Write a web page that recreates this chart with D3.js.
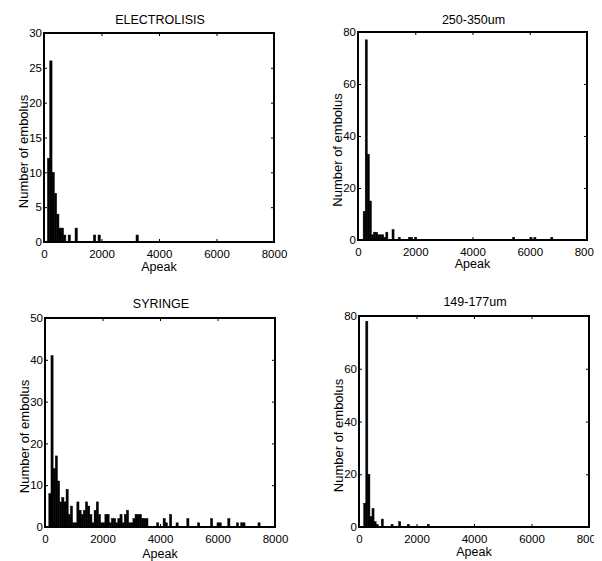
<!DOCTYPE html>
<html>
<head>
<meta charset="utf-8">
<script src="https://cdnjs.cloudflare.com/ajax/libs/d3/7.8.5/d3.min.js"></script>
<style>
body { margin: 0; background: #fff; }
svg { display: block; overflow: hidden; }
text { font-family: "Liberation Sans", Arial, Helvetica, sans-serif; fill: #000; }
</style>
</head>
<body>
<svg id="fig" width="594" height="561"></svg>
<script>
// Histograms of Apeak: bin centres and counts

var xTicks = [0, 2000, 4000, 6000, 8000];

var electroCenters = [160, 240, 320, 400, 480, 560, 640, 720, 880, 1120, 1760, 1920, 3240];
var electroCounts  = [ 12,  26,  10,   7,   4,   2,   2,   1,   1,    2,    1,    1,    1];
var electroTicks   = [0, 5, 10, 15, 20, 25, 30];

var bigCenters = [216, 288, 360, 432, 504, 576, 648, 720, 792, 864, 936, 1008,
                  1224, 1440, 1800, 1872, 2016, 5440, 6045, 6180, 6770];
var bigCounts  = [ 11,  77,  33,  15,   2,   3,   3,   2,   2,   2,   1,    3,
                      4,    1,    1,    1,    1,    1,    1,    1,    1];
var bigTicks   = [0, 20, 40, 60, 80];

var syringeCenters = [170, 245, 320, 395, 470, 545, 620, 695, 770, 845, 920, 995,
                      1070, 1145, 1220, 1295, 1370, 1445, 1520, 1595, 1670, 1745, 1820, 1895,
                      1970, 2045, 2120, 2195, 2270, 2345, 2420, 2495, 2570, 2645, 2720, 2795,
                      2870, 2945, 3020, 3095, 3170, 3245, 3320, 3395, 3470, 3545,
                      3920, 4145, 4220, 4370, 4595, 4970, 5345, 5795, 6020, 6095,
                      6395, 6695, 6845, 6920, 7445];
var syringeCounts  = [8, 41, 14, 17, 11, 6, 7, 6, 9, 3, 5, 1,
                      1, 6, 4, 3, 4, 6, 5, 3, 1, 4, 6, 3,
                      1, 1, 3, 3, 1, 2, 2, 1, 2, 3, 1, 3,
                      4, 1, 1, 2, 3, 3, 3, 2, 2, 2,
                      1, 2, 1, 3, 1, 2, 1, 2, 1, 1,
                      2, 1, 1, 1, 1];
var syringeTicks   = [0, 10, 20, 30, 40, 50];

var smallCenters = [200, 272, 344, 416, 488, 560, 632, 810, 1150, 1415, 1715, 2410];
var smallCounts  = [  9,  78,  20,   4,   7,   2,   1,   3,    1,    2,    1,    1];
var smallTicks   = [0, 20, 40, 60, 80];

// one entry per subplot: data plus where the box sits on the page
var panels = [
    { title: 'ELECTROLISIS', centers: electroCenters, counts: electroCounts, yTicks: electroTicks,
      bin: 80, box: [44, 33, 274, 242], titleDy: 9, xlabDy: 29 },
    { title: '250-350um', centers: bigCenters, counts: bigCounts, yTicks: bigTicks,
      bin: 72, box: [358, 32, 587, 240], titleDy: 8, xlabDy: 28 },
    { title: 'SYRINGE', centers: syringeCenters, counts: syringeCounts, yTicks: syringeTicks,
      bin: 75, box: [45, 318, 275, 527], titleDy: 10, xlabDy: 31 },
    { title: '149-177um', centers: smallCenters, counts: smallCounts, yTicks: smallTicks,
      bin: 72, box: [359, 316, 589, 527], titleDy: 10, xlabDy: 29 }
];

var svg = d3.select('#fig');

function drawPanel(p) {
    var left = p.box[0], top = p.box[1], right = p.box[2], bottom = p.box[3];
    var yMax = p.yTicks[p.yTicks.length - 1];

    var x = d3.scaleLinear().domain([0, 8000]).range([left, right]);
    var y = d3.scaleLinear().domain([0, yMax]).range([bottom, top]);
    var g = svg.append('g');

    var bins = p.centers.map(function(c, i) { return { c: c, n: p.counts[i] }; });
    var bw = x(p.bin) - x(0);

    g.selectAll('rect.bar')
        .data(bins)
      .enter().append('rect')
        .attr('class', 'bar')
        .attr('x', function(d) { return x(d.c) - bw / 2; })
        .attr('y', function(d) { return y(d.n); })
        .attr('width', bw)
        .attr('height', function(d) { return y(0) - y(d.n); })
        .attr('fill', '#000')
        .attr('stroke', '#000')
        .attr('stroke-width', 0.5);

    // inward ticks on all four sides, labels only bottom and left
    var tick = 3;
    var bottomAxis = d3.axisBottom(x).tickValues(xTicks).tickSize(-tick).tickPadding(8)
        .tickFormat(d3.format('d'));
    var leftAxis = d3.axisLeft(y).tickValues(p.yTicks).tickSize(-tick).tickPadding(2);
    var topAxis = d3.axisTop(x).tickValues(xTicks).tickSize(-tick).tickFormat('');
    var rightAxis = d3.axisRight(y).tickValues(p.yTicks).tickSize(-tick).tickFormat('');

    var axes = [
        [bottomAxis, 'translate(0,' + bottom + ')'],
        [leftAxis, 'translate(' + left + ',0)'],
        [topAxis, 'translate(0,' + top + ')'],
        [rightAxis, 'translate(' + right + ',0)']
    ];
    axes.forEach(function(a) {
        var ag = g.append('g').attr('transform', a[1]).call(a[0]);
        ag.select('.domain').remove();
        ag.selectAll('line').attr('stroke', '#000').attr('stroke-width', 1);
        ag.selectAll('text')
            .style('font-family', '"Liberation Sans", Arial, sans-serif')
            .style('font-size', '11.5px')
            .attr('fill', '#000');
    });

    g.append('rect')
        .attr('x', left)
        .attr('y', top)
        .attr('width', right - left)
        .attr('height', bottom - top)
        .attr('fill', 'none')
        .attr('stroke', '#000')
        .attr('stroke-width', 2);

    var cx = (left + right) / 2;

    g.append('text')
        .attr('x', cx + 1)
        .attr('y', top - p.titleDy)
        .attr('text-anchor', 'middle')
        .style('font-size', '12.5px')
        .text(p.title);

    g.append('text')
        .attr('x', cx)
        .attr('y', bottom + p.xlabDy)
        .attr('text-anchor', 'middle')
        .style('font-size', '12.5px')
        .text('Apeak');

    g.append('text')
        .attr('transform', 'translate(' + (left - 16) + ',' + ((top + bottom) / 2 + 14) + ') rotate(-90)')
        .attr('text-anchor', 'middle')
        .style('font-size', '13px')
        .text('Number of embolus');
}

panels.forEach(drawPanel);
</script>
</body>
</html>
